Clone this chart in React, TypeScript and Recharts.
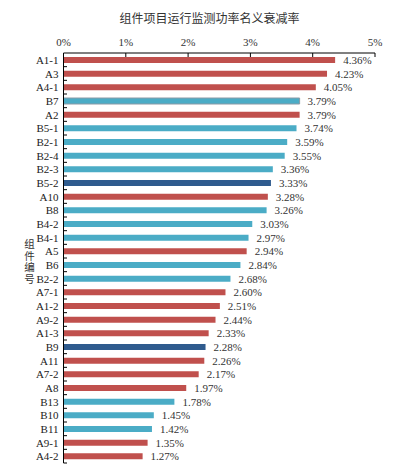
import { Bar, BarChart, Cell, LabelList, XAxis, YAxis } from 'recharts';

const categories = [
  'A1-1', 'A3', 'A4-1', 'B7', 'A2', 'B5-1', 'B2-1', 'B2-4', 'B2-3', 'B5-2',
  'A10', 'B8', 'B4-2', 'B4-1', 'A5', 'B6', 'B2-2', 'A7-1', 'A1-2', 'A9-2',
  'A1-3', 'B9', 'A11', 'A7-2', 'A8', 'B13', 'B10', 'B11', 'A9-1', 'A4-2',
];
const decay = [
  4.36, 4.23, 4.05, 3.79, 3.79, 3.74, 3.59, 3.55, 3.36, 3.33,
  3.28, 3.26, 3.03, 2.97, 2.94, 2.84, 2.68, 2.6, 2.51, 2.44,
  2.33, 2.28, 2.26, 2.17, 1.97, 1.78, 1.45, 1.42, 1.35, 1.27,
];
// r = red, t = teal, d = dark blue
const groups = [
  'r', 'r', 'r', 't', 'r', 't', 't', 't', 't', 'd',
  'r', 't', 't', 't', 'r', 't', 't', 'r', 'r', 'r',
  'r', 'd', 'r', 'r', 'r', 't', 't', 't', 'r', 'r',
];
const xTicks = [0, 1, 2, 3, 4, 5];

const colors: Record<string, string> = { r: '#C0504D', t: '#4BACC6', d: '#2F5B8E' };
const data = categories.map((name, i) => ({ name, value: decay[i], group: groups[i] }));

const serif = '"Liberation Serif", "Times New Roman", serif';
const cjk = '"Noto Sans CJK SC", sans-serif';
const TOP = 53;
const BOTTOM = 463;
const band = (BOTTOM - TOP) / categories.length;

const XTick = (props: any) => {
  const { x, y, payload } = props;
  return (
    <g>
      <line x1={x} y1={y} x2={x} y2={y + 4} stroke='#000' />
      <text x={x} y={y - 7} textAnchor='middle' fontSize={11} fontFamily={serif} fill='#333'>
        {payload.value}%
      </text>
    </g>
  );
};

const YTick = (props: any) => {
  const { x, y, payload } = props;
  return (
    <g>
      <line x1={63.5} y1={y + band / 2} x2={67} y2={y + band / 2} stroke='#000' />
      <text x={x - 5} y={y} dy={4} textAnchor='end' fontSize={11} fontFamily={serif} fill='#222'>
        {payload.value}
      </text>
    </g>
  );
};

export default function App() {
  return (
    <div style={{ position: 'absolute', left: 0, top: 0, width: 393, height: 464, background: '#fff' }}>
      <div
        style={{
          position: 'absolute', left: 0, width: 393, top: 9, textAlign: 'center',
          fontFamily: cjk, fontSize: 12, color: '#333', paddingLeft: 26,
          boxSizing: 'border-box',
        }}
      >
        组件项目运行监测功率名义衰减率
      </div>
      <div
        style={{
          position: 'absolute', left: 23, top: 239, writingMode: 'vertical-rl', textOrientation: 'upright',
          fontSize: 10.5, letterSpacing: 1, lineHeight: '13px', fontFamily: cjk, color: '#333',
        }}
      >
        组件编号
      </div>
      <BarChart
        width={393}
        height={464}
        data={data}
        layout='vertical'
        margin={{ top: 0, right: 18, bottom: 1, left: 0 }}
        barCategoryGap={0}
      >
        <XAxis
          type='number'
          orientation='top'
          domain={[0, 5]}
          ticks={xTicks}
          height={TOP}
          tickSize={0}
          tickMargin={0}
          tickLine={false}
          tick={<XTick />}
          axisLine={{ stroke: '#000' }}
          interval={0}
        />
        <YAxis
          type='category'
          dataKey='name'
          width={63.5}
          tickLine={false}
          tickSize={0}
          tickMargin={0}
          tick={<YTick />}
          axisLine={{ stroke: '#000' }}
          interval={0}
        />
        <Bar dataKey='value' barSize={6} isAnimationActive={false}>
          {data.map((d) => (
            <Cell
              key={d.name}
              fill={colors[d.group]}
              stroke={d.name === 'B7' ? '#8a9aa6' : 'none'}
              strokeWidth={d.name === 'B7' ? 1 : 0}
            />
          ))}
          <LabelList
            dataKey='value'
            position='right'
            offset={8}
            formatter={(v: any) => `${Number(v).toFixed(2)}%`}
            style={{ fontSize: 11, fontFamily: serif, fill: '#333' }}
          />
        </Bar>
      </BarChart>
    </div>
  );
}
